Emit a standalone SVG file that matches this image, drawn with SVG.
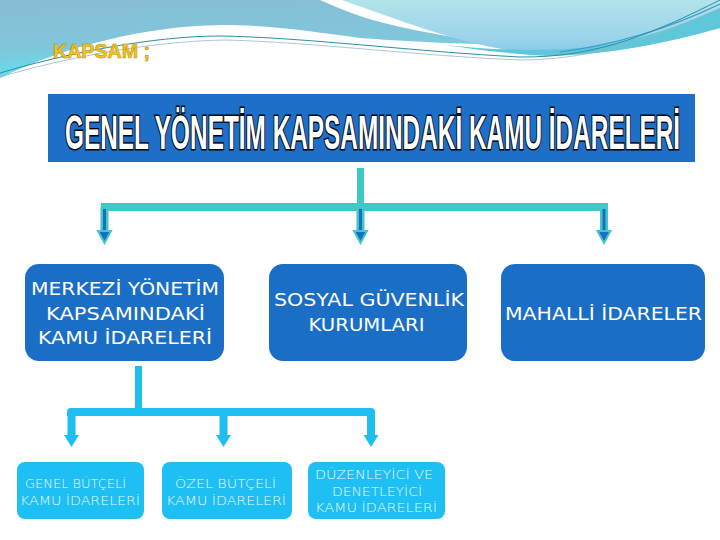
<svg xmlns="http://www.w3.org/2000/svg" width="720" height="540" viewBox="0 0 720 540">
<defs>
<linearGradient id="gLeft" x1="0" y1="0" x2="0.2" y2="1">
<stop offset="0" stop-color="#88BDD5"/>
<stop offset="0.6" stop-color="#80C6DA"/>
<stop offset="1" stop-color="#5EE2EE"/>
</linearGradient>
<linearGradient id="gRight" x1="0" y1="0" x2="0" y2="1">
<stop offset="0" stop-color="#B2E3EA"/>
<stop offset="0.7" stop-color="#9AD4EA"/>
<stop offset="1" stop-color="#86C6EC"/>
</linearGradient>
<style>
.mid{fill:#1A6EC6}
.low{fill:#1EBFF2}
.midt{font-family:"DejaVu Sans",Verdana,sans-serif;font-size:18px;fill:#FFFFFF}
.lowt{font-family:"DejaVu Sans",Verdana,sans-serif;font-size:13px;font-weight:200;fill:#EAF8FE}
.up{fill:#40C8C8}
.low-c{fill:#1EBEF0}
</style>
</defs>
<rect width="720" height="540" fill="#FFFFFF"/>
<g id="header">
<path d="M0,0 L320,0 C340,9 360,17 380,22 C420,32 470,41 512,45 C460,44 400,41 360,38 C310,31 270,25 220,25 C150,26 70,44 0,78 Z" fill="url(#gLeft)"/>
<path d="M342,0 L720,0 L720,28 C670,42 610,55 548,55 C505,52 465,42 425,29 C395,19 370,10 342,0 Z" fill="url(#gRight)"/>
<path d="M445,45 C500,51 560,52 605,45 C650,37 690,22 720,8 L720,28 C670,42 610,55 548,56 C512,54 478,50 445,45 Z" fill="#5EC8DA"/>
<path d="M560,52 C620,44 670,28 720,4" fill="none" stroke="#3AA0C8" stroke-width="1.2"/>
<path d="M0,73 C60,55 150,36 220,36 C300,37 420,52 520,57 C600,58 660,30 720,0" fill="none" stroke="#2A8FA8" stroke-width="1"/>
<path d="M0,77 C60,59 150,41 225,40 C310,42 420,56 520,60 C600,60 660,34 720,8" fill="none" stroke="#9AB8C4" stroke-width="0.8"/>
<text x="53" y="58" font-family="'Liberation Sans',Arial,sans-serif" font-weight="bold" font-size="21" fill="#F3C61C" stroke="#B88A10" stroke-width="0.6" textLength="97" lengthAdjust="spacingAndGlyphs">KAPSAM ;</text>
</g>
<g id="title">
<rect x="48" y="94" width="647" height="68" fill="#1E6FC8"/>
<text transform="translate(65,149) scale(0.508,1)" x="0" y="0" font-family="'Liberation Sans',Arial,sans-serif" font-weight="bold" font-size="48" fill="#FFFFFF" stroke="#000000" stroke-width="3" paint-order="stroke">GENEL YÖNETİM KAPSAMINDAKİ KAMU İDARELERİ</text>
</g>
<g id="connectors">
<rect class="up" x="357" y="168" width="7" height="43"/>
<rect class="up" x="101" y="203" width="507" height="8"/>
<g id="arr1">
<rect class="up" x="100.5" y="207" width="8" height="26"/>
<rect x="103" y="209" width="3" height="24" fill="#1A6EC0"/>
<polygon points="98,231 111,231 104.5,243" fill="#1A6EC0" stroke="#40C8C8" stroke-width="2"/>
</g>
<g id="arr2">
<rect class="up" x="356.5" y="207" width="8" height="26"/>
<rect x="359" y="209" width="3" height="24" fill="#1A6EC0"/>
<polygon points="354,231 367,231 360.5,243" fill="#1A6EC0" stroke="#40C8C8" stroke-width="2"/>
</g>
<g id="arr3">
<rect class="up" x="600" y="207" width="8" height="26"/>
<rect x="602.5" y="209" width="3" height="24" fill="#1A6EC0"/>
<polygon points="597.5,231 610.5,231 604,243" fill="#1A6EC0" stroke="#40C8C8" stroke-width="2"/>
</g>
<rect class="low-c" x="135" y="366" width="7" height="46"/>
<path class="low-c" d="M67,416 L67,412 Q67,408 71,408 L371,408 Q375,408 375,412 L375,416 Z"/>
<rect class="low-c" x="67.5" y="412" width="8" height="25"/>
<polygon class="low-c" points="64,435 79,435 71.5,447"/>
<rect class="low-c" x="219.5" y="412" width="8" height="25"/>
<polygon class="low-c" points="216,435 231,435 223.5,447"/>
<rect class="low-c" x="367" y="412" width="8" height="25"/>
<polygon class="low-c" points="363.5,435 378.5,435 371,447"/>
</g>
<g id="n-merkezi">
<rect class="mid" x="25" y="264" width="199" height="97" rx="14"/>
<text class="midt" x="31" y="295" textLength="188" lengthAdjust="spacingAndGlyphs">MERKEZİ YÖNETİM</text>
<text class="midt" x="46" y="320" textLength="159" lengthAdjust="spacingAndGlyphs">KAPSAMINDAKİ</text>
<text class="midt" x="38" y="344" textLength="174" lengthAdjust="spacingAndGlyphs">KAMU İDARELERİ</text>
</g>
<g id="n-sosyal">
<rect class="mid" x="269" y="264" width="198" height="97" rx="14"/>
<text class="midt" x="274" y="306" textLength="190" lengthAdjust="spacingAndGlyphs">SOSYAL GÜVENLİK</text>
<text class="midt" x="308.5" y="331" textLength="116" lengthAdjust="spacingAndGlyphs">KURUMLARI</text>
</g>
<g id="n-mahalli">
<rect class="mid" x="501" y="264" width="204" height="97" rx="14"/>
<text class="midt" x="505" y="320" textLength="197" lengthAdjust="spacingAndGlyphs">MAHALLİ İDARELER</text>
</g>
<g id="n-genel">
<rect class="low" x="17" y="462" width="127" height="57" rx="8"/>
<text class="lowt" x="25" y="488" textLength="101" lengthAdjust="spacingAndGlyphs">GENEL BÜTÇELİ</text>
<text class="lowt" x="20" y="505" textLength="120" lengthAdjust="spacingAndGlyphs">KAMU İDARELERİ</text>
</g>
<g id="n-ozel">
<rect class="low" x="162" y="462" width="130" height="57" rx="8"/>
<text class="lowt" x="175" y="488" textLength="101" lengthAdjust="spacingAndGlyphs">ÖZEL BÜTÇELİ</text>
<text class="lowt" x="166" y="505" textLength="120" lengthAdjust="spacingAndGlyphs">KAMU İDARELERİ</text>
</g>
<g id="n-duzenleyici">
<rect class="low" x="308" y="462" width="137" height="57" rx="8"/>
<text class="lowt" x="315" y="479" textLength="118" lengthAdjust="spacingAndGlyphs">DÜZENLEYİCİ VE</text>
<text class="lowt" x="332" y="496" textLength="90" lengthAdjust="spacingAndGlyphs">DENETLEYİCİ</text>
<text class="lowt" x="315" y="512" textLength="122" lengthAdjust="spacingAndGlyphs">KAMU İDARELERİ</text>
</g>
</svg>
